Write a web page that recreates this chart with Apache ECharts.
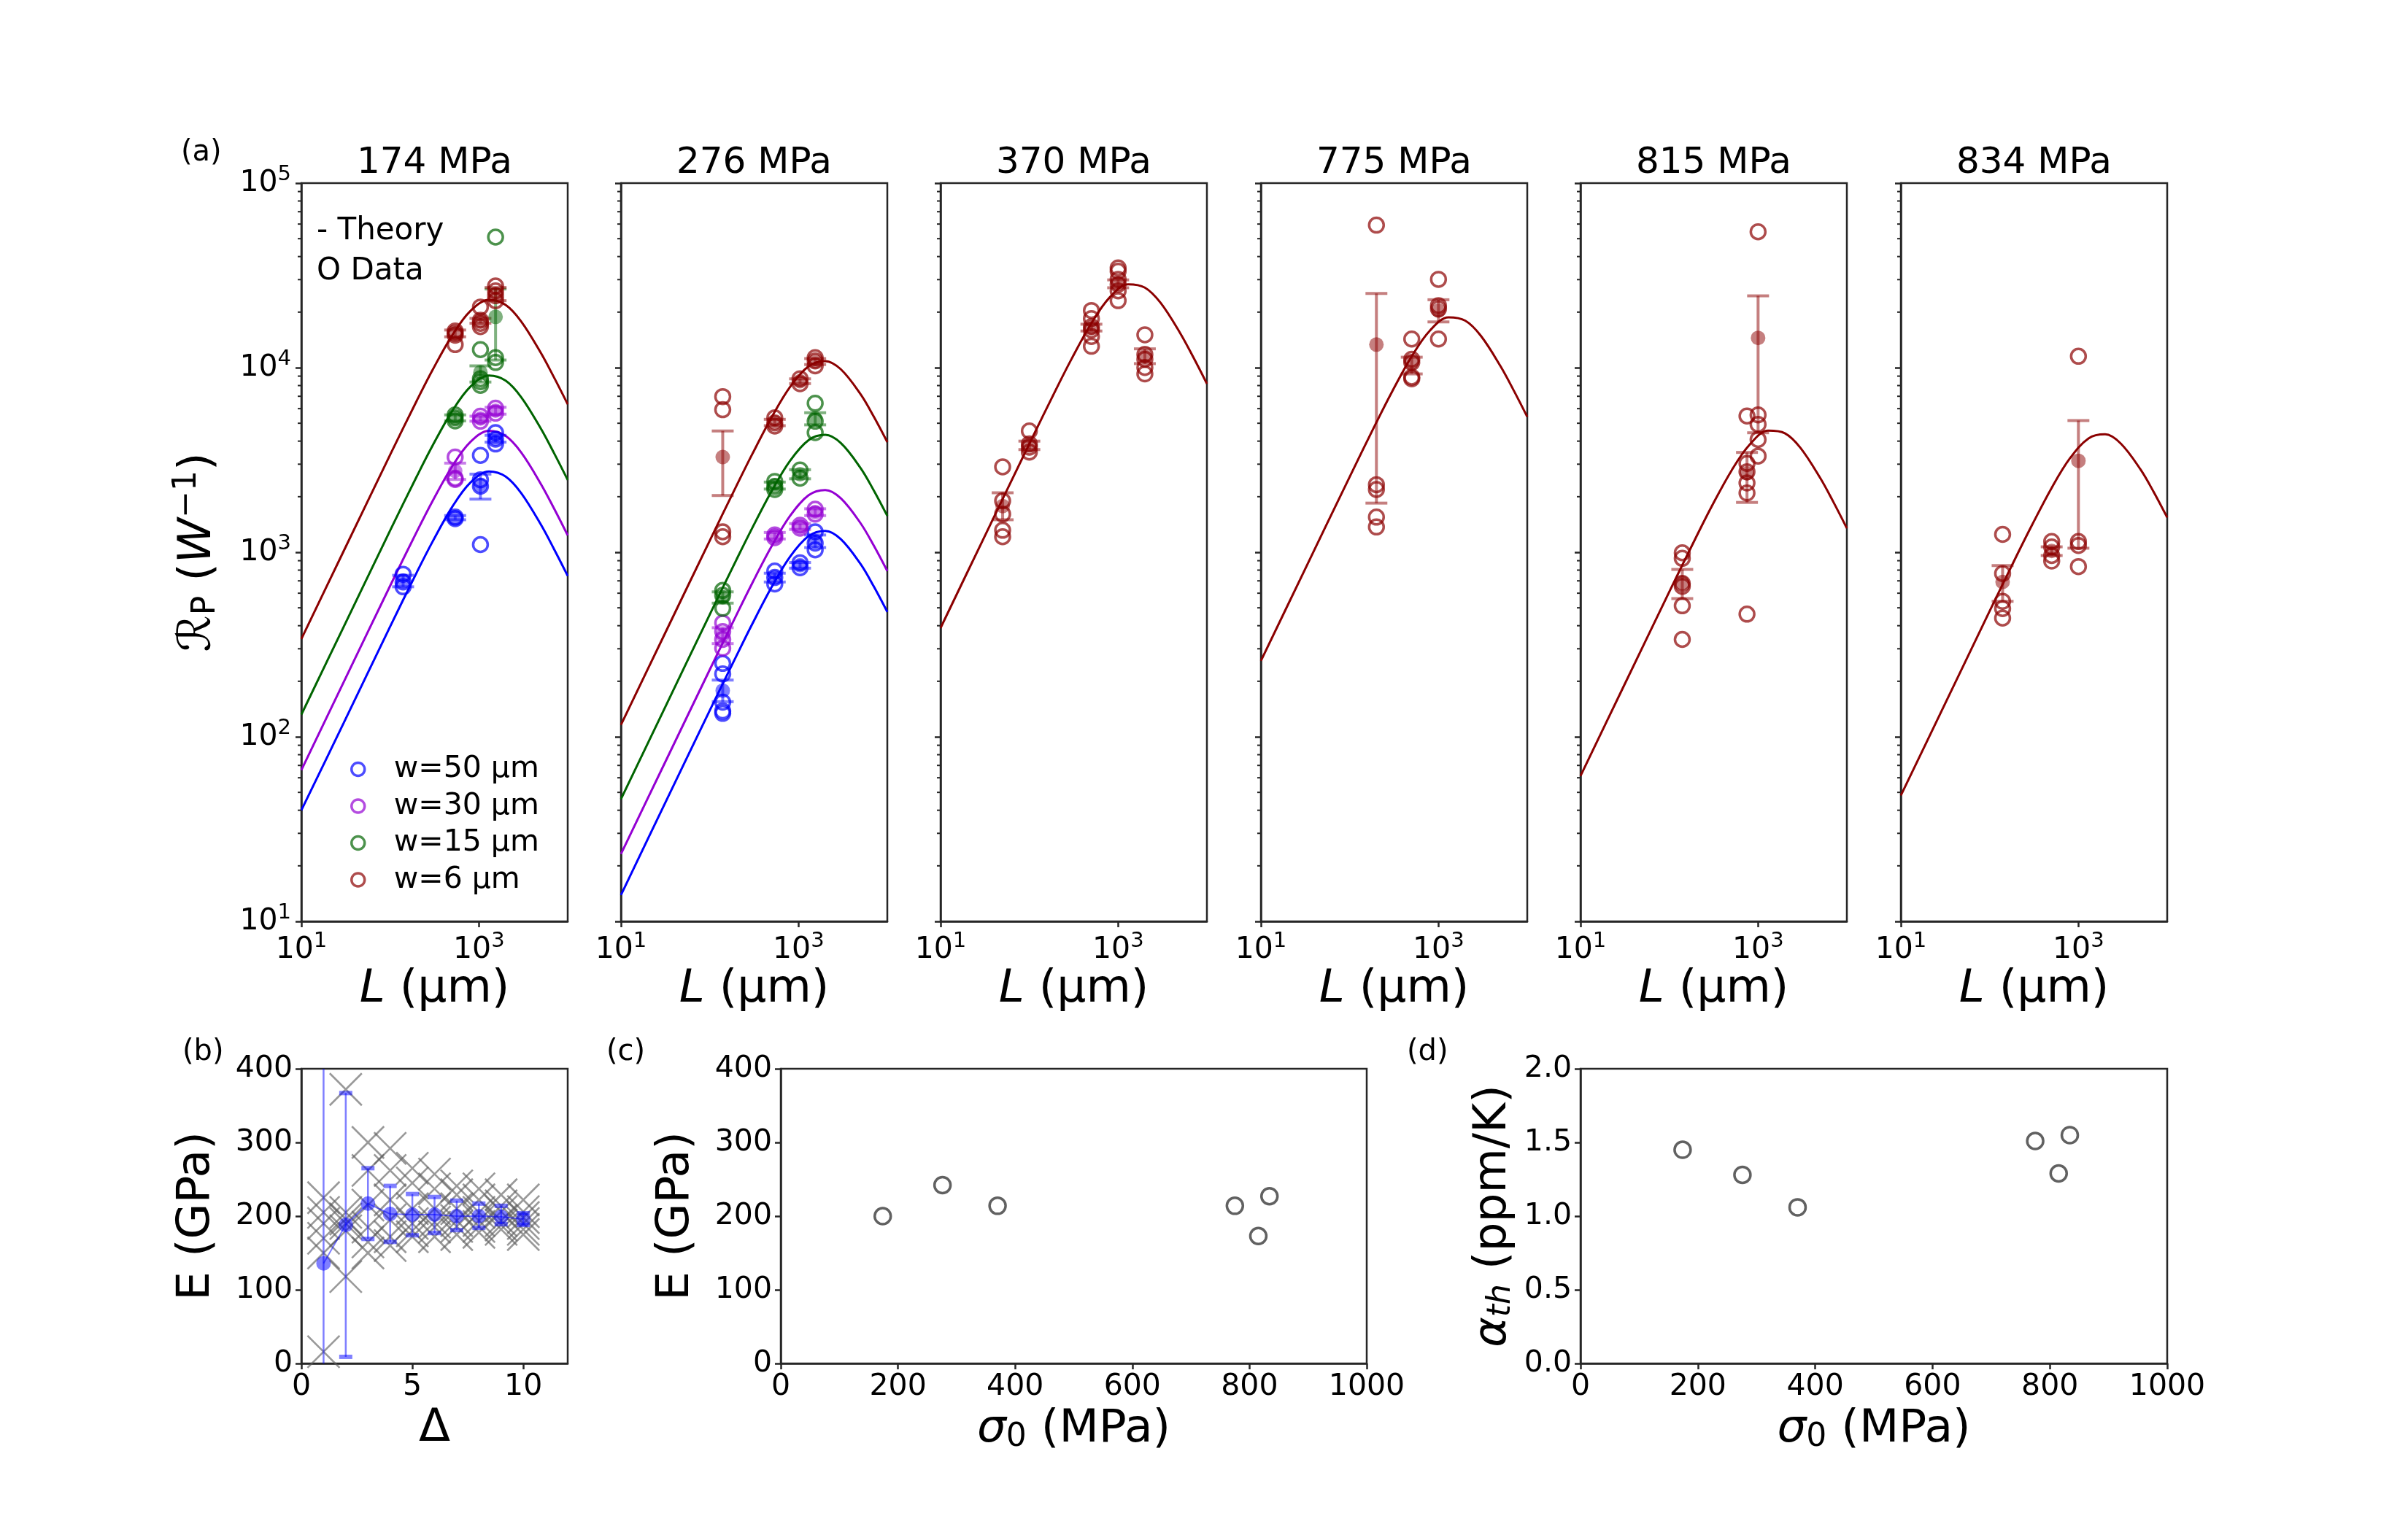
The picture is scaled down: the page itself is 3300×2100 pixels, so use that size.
<!DOCTYPE html>
<html><head><meta charset="utf-8">
<script src="https://cdn.jsdelivr.net/npm/echarts@6/dist/echarts.min.js"></script>
<style>html,body{margin:0;padding:0;background:#fff}#c{width:3300px;height:2100px}</style>
</head><body><div id="c"></div>
<script>
// ---------------- DATA ----------------
const panelTitles = ['174 MPa','276 MPa','370 MPa','775 MPa','815 MPa','834 MPa'];
const widthNames = ['w=50 μm','w=30 μm','w=15 μm','w=6 μm'];
const curveL = [10,30,100,200,300,500,800,1300,2000,3000,5000,7000,10000];

// theory curves
const c174_w50 = [40,119,396,780,1140,1760,2383,2741,2571,2089,1409,1042,745];
const c174_w30 = [66,198,658,1294,1892,2921,3955,4549,4267,3467,2339,1730,1236];
const c174_w15 = [132,395,1312,2582,3775,5827,7889,9075,8511,6916,4666,3451,2466];
const c174_w6  = [339,1016,3373,6637,9705,14980,20280,23330,21880,17780,11995,8872,6339];
const c276_w50 = [13.9,41.8,139,275,407,650,944,1224,1306,1177,863,656,475];
const c276_w30 = [23.2,69.5,231,458,678,1082,1570,2037,2173,1959,1436,1092,791];
const c276_w15 = [46,138,460,912,1349,2153,3126,4055,4325,3900,2858,2173,1574];
const c276_w6  = [116,348,1156,2291,3388,5408,7852,10186,10864,9795,7178,5458,3954];
const c370_w6  = [389,1167,3873,7638,11194,17418,23988,28314,27164,22491,15382,11429,8185];
const c775_w6  = [258,773,2564,5056,7410,11531,15880,18744,17983,14889,10183,7566,5418];
const c815_w6  = [61.4,184,611,1205,1770,2761,3819,4560,4416,3681,2529,1884,1349];
const c834_w6  = [48.1,144,480,951,1403,2234,3221,4140,4355,3882,2812,2133,1542];

// measured points [L, R]
const pts174_w50 = [[140,760],[140,690],[140,650],[540,1550],[540,1520],[1040,3350],[1040,2470],[1040,2280],[1040,1100],[1540,4450],[1540,4100],[1540,3860]];
const pts174_w30 = [[540,3280],[540,2520],[540,2480],[1040,5460],[1040,5130],[1540,6030],[1540,5670]];
const pts174_w15 = [[540,5550],[540,5350],[540,5150],[1040,12530],[1040,8710],[1040,8400],[1040,8020],[1540,51000],[1540,11330],[1540,10670]];
const pts174_w6  = [[540,15800],[540,15380],[540,15000],[540,13340],[1040,21300],[1040,18070],[1040,17400],[1040,16700],[1540,27700],[1540,26060],[1540,24540],[1540,23070]];
const pts276_w50 = [[140,250],[140,219],[140,154],[140,138],[140,134],[540,791],[540,730],[540,673],[1040,877],[1040,825],[1540,1290],[1540,1120],[1540,1031]];
const pts276_w30 = [[140,414],[140,372],[140,337],[140,302],[540,1240],[540,1200],[1040,1400],[1040,1350],[1540,1710],[1540,1610]];
const pts276_w15 = [[140,621],[140,584],[140,497],[540,2420],[540,2276],[540,2188],[1040,2790],[1040,2520],[1540,6410],[1540,5130],[1540,4450]];
const pts276_w6  = [[140,6970],[140,5920],[140,1290],[140,1213],[540,5350],[540,5020],[540,4830],[1040,8710],[1040,8190],[1540,11330],[1540,10880],[1540,10240]];
const pts370_w6  = [[50,2900],[50,1900],[50,1610],[50,1316],[50,1213],[100,4540],[100,3860],[100,3710],[100,3490],[500,20400],[500,18450],[500,16680],[500,16010],[500,14750],[500,13070],[1000,34700],[1000,33300],[1000,30100],[1000,28300],[1000,26060],[1000,23080],[2000,15070],[2000,11800],[2000,11100],[2000,10020],[2000,9250]];
const pts775_w6  = [[200,59200],[200,2323],[200,2188],[200,1550],[200,1371],[500,14290],[500,11100],[500,10670],[500,8890],[500,8710],[1000,30100],[1000,21700],[1000,20840],[1000,14290]];
const pts815_w6  = [[140,993],[140,927],[140,678],[140,654],[140,513],[140,337],[750,5470],[750,3030],[750,2730],[750,2373],[750,2094],[750,462],[1000,54500],[1000,5550],[1000,4930],[1000,4080],[1000,3320]];
const pts834_w6  = [[140,1250],[140,767],[140,542],[140,495],[140,440],[500,1143],[500,1067],[500,960],[500,896],[1000,11530],[1000,1143],[1000,1089],[1000,836]];

// means with error bars [L, mean, low, high]
const mean174_w50 = [[140,700,650,750],[540,1540,1500,1580],[1040,2300,1940,2650],[1540,4130,3950,4300]];
const mean174_w30 = [[540,2760,2480,3040],[1040,5300,5130,5460],[1540,5850,5600,6100]];
const mean174_w15 = [[540,5350,5150,5550],[1040,9440,8360,10230],[1540,18850,11000,26700]];
const mean174_w6  = [[540,15300,14700,16000],[1040,18000,17400,18500],[1540,25000,23070,27200]];
const mean276_w50 = [[140,178,155,203],[540,730,690,770],[1040,850,820,880],[1540,1150,1060,1240]];
const mean276_w30 = [[140,355,320,390],[540,1230,1180,1280],[1040,1380,1330,1430],[1540,1650,1580,1720]];
const mean276_w15 = [[140,570,530,610],[540,2300,2200,2400],[1040,2650,2500,2800],[1540,5300,4900,5700]];
const mean276_w6  = [[140,3280,2030,4540],[540,5050,4850,5250],[1040,8450,8200,8700],[1540,10800,10400,11200]];
const mean370_w6  = [[50,1780,1500,2100],[100,3800,3600,4000],[500,16500,15800,17200],[1000,28500,27100,29900],[2000,11500,10520,12650]];
const mean775_w6  = [[200,13340,1846,25240],[500,10700,9250,11400],[1000,20400,17700,23340]];
const mean815_w6  = [[140,684,561,807],[750,2680,1862,3474],[1000,14500,4440,24500]];
const mean834_w6  = [[140,690,542,847],[500,1016,960,1070],[1000,3130,1052,5170]];

// (b) E vs Delta
const deltaValues = [1,2,3,4,5,6,7,8,9,10];
const bMeanE = [136,188,217,203,202,202,200,200,199,196];
const bErrLow = [-270,9,169,165,174,177,181,184,189,188];
const bErrHigh = [540,367,265,241,230,226,221,217,214,204];
const bEstimates = [
  [16,150,170,190,205,225],
  [372,118,180,190,196,205],
  [300,262,215,185,165,150],
  [292,262,222,195,172,160],
  [265,245,210,190,180,172],
  [257,237,210,192,185,172],
  [241,229,210,194,186,175],
  [237,222,205,194,186,178],
  [229,214,206,194,188,182],
  [222,206,198,190,182,175]
];
// (c),(d)
const sigma0 = [174,276,370,775,815,834];
const cE = [200,242,214,214,173,227];
const dAlpha = [1.45,1.28,1.06,1.51,1.29,1.55];

// tick lists
const yMajorTicks = [10,100,1000,10000,100000];
const xMajorTicks = [10,1000];
const yMinorTicks = [];
[10,100,1000,10000].forEach(b => { for (let k = 2; k <= 9; k++) yMinorTicks.push(b*k); });

// ---------------- LAYOUT / STYLE ----------------
const FONT = 'DejaVu Sans';
const COL = ['#0000ff','#9400d3','#006400','#8b0000'];
const SPINE = '#262626';
const TICKFS = 41;
const topLefts = [413,851,1289,1728,2166,2605];
const TOP = {top:251, width:365, height:1012};
const botGrids = [
  {left:413, top:1465, width:365, height:404},
  {left:1070, top:1465, width:803, height:404},
  {left:2166, top:1465, width:804, height:404}
];

const supLabel = v => '{b|10}{s|' + Math.round(Math.log10(v)) + '}';
const tickRich = {
  b:{fontSize:TICKFS, fontFamily:FONT, color:'#000'},
  s:{fontSize:29, fontFamily:FONT, color:'#000', padding:[0,0,24,0]}
};
const botLabel = (extra) => Object.assign({fontSize:TICKFS, fontFamily:FONT, color:'#000', margin:12, formatter:v => String(v)}, extra || {});

const grids = [], xAxes = [], yAxes = [], series = [];
topLefts.forEach((l,i) => {
  grids.push({left:l, top:TOP.top, width:TOP.width, height:TOP.height, show:true, borderColor:SPINE, borderWidth:2.5, backgroundColor:'transparent'});
});
botGrids.forEach(g => grids.push(Object.assign({show:true, borderColor:SPINE, borderWidth:2.5, backgroundColor:'transparent'}, g)));

const axLine = {show:true, lineStyle:{color:SPINE, width:2.5}};
const axTick = (len) => ({show:true, inside:false, length:len, lineStyle:{color:SPINE, width:2.5}});
const nameRich = {
  i:{fontSize:63, fontStyle:'italic', fontFamily:FONT, color:'#000'},
  n:{fontSize:63, fontFamily:FONT, color:'#000'},
  sub:{fontSize:44, fontFamily:FONT, color:'#000', padding:[22,0,0,0]},
  isub:{fontSize:44, fontStyle:'italic', fontFamily:FONT, color:'#000', padding:[22,0,0,0]},
  sup:{fontSize:44, fontFamily:FONT, color:'#000', padding:[0,0,30,0]}
};

topLefts.forEach((l,i) => {
  xAxes.push({type:'log', logBase:10, gridIndex:i, min:10, max:10000, position:'bottom',
    axisLine:axLine, splitLine:{show:false},
    axisTick:Object.assign(axTick(8), {customValues:xMajorTicks}),
    axisLabel:{customValues:xMajorTicks, formatter:supLabel, rich:tickRich, margin:13},
    name:'{i|L}{n| (μm)}', nameLocation:'middle', nameGap:62,
    nameTextStyle:{rich:nameRich}
  });
});
// bottom x axes
xAxes.push({type:'value', gridIndex:6, min:0, max:12, position:'bottom', axisLine:axLine, splitLine:{show:false},
  axisTick:Object.assign(axTick(8), {customValues:[0,5,10]}),
  axisLabel:botLabel({customValues:[0,5,10]}),
  name:'Δ', nameLocation:'middle', nameGap:58, nameTextStyle:{fontSize:63, fontFamily:FONT, color:'#000'}});
[7,8].forEach(gi => xAxes.push({type:'value', gridIndex:gi, min:0, max:1000, interval:200, position:'bottom', axisLine:axLine, splitLine:{show:false},
  axisTick:axTick(8), axisLabel:botLabel(),
  name:'{i|σ}{sub|0}{n| (MPa)}', nameLocation:'middle', nameGap:58,
  nameTextStyle:{rich:nameRich}}));

// top y axes
topLefts.forEach((l,i) => {
  const y = {type:'log', logBase:10, gridIndex:i, min:10, max:100000, position:'left',
    axisLine:axLine, splitLine:{show:false},
    axisTick:Object.assign(axTick(8), {customValues:yMajorTicks}),
    axisLabel:{show:i===0, customValues:yMajorTicks, formatter:supLabel, rich:tickRich, margin:14}};
  if (i === 0) {
    y.name = '{n|ℛ}{sub|P}{n| (}{i|W}{sup|−1}{n|)}';
    y.nameLocation = 'middle';
    y.nameGap = 104;
    y.nameTextStyle = {rich:nameRich};
  }
  yAxes.push(y);
});
// bottom y axes
yAxes.push({type:'value', gridIndex:6, min:0, max:400, interval:100, position:'left', axisLine:axLine, splitLine:{show:false},
  axisTick:axTick(8), axisLabel:botLabel(),
  name:'E (GPa)', nameLocation:'middle', nameGap:112, nameTextStyle:{fontSize:63, fontFamily:FONT, color:'#000'}});
yAxes.push({type:'value', gridIndex:7, min:0, max:400, interval:100, position:'left', axisLine:axLine, splitLine:{show:false},
  axisTick:axTick(8), axisLabel:botLabel(),
  name:'E (GPa)', nameLocation:'middle', nameGap:112, nameTextStyle:{fontSize:63, fontFamily:FONT, color:'#000'}});
yAxes.push({type:'value', gridIndex:8, min:0, max:2, interval:0.5, position:'left', axisLine:axLine, splitLine:{show:false},
  axisTick:axTick(8), axisLabel:botLabel({formatter:v => v.toFixed(1)}),
  name:'{i|α}{isub|th}{n| (ppm/K)}', nameLocation:'middle', nameGap:86,
  nameTextStyle:{rich:nameRich}});

// ---------------- SERIES ----------------
function errRender(color, capHalf, stemW, capW, op) {
  return function(params, api) {
    const x = api.value(0), lo = api.value(2), hi = api.value(3);
    const a = api.coord([x, lo]), b = api.coord([x, hi]);
    const st = {stroke:color, lineWidth:stemW, opacity:op};
    const sc = {stroke:color, lineWidth:capW, opacity:op};
    return {type:'group', children:[
      {type:'line', shape:{x1:a[0], y1:a[1], x2:b[0], y2:b[1]}, style:st},
      {type:'line', shape:{x1:a[0]-capHalf, y1:a[1], x2:a[0]+capHalf, y2:a[1]}, style:sc},
      {type:'line', shape:{x1:b[0]-capHalf, y1:b[1], x2:b[0]+capHalf, y2:b[1]}, style:sc}
    ]};
  };
}
function minorTickRender(params, api) {
  const p = api.coord([api.value(0), api.value(1)]);
  return {type:'line', shape:{x1:p[0]-5, y1:p[1], x2:p[0], y2:p[1]}, style:{stroke:SPINE, lineWidth:2}};
}
function addGroup(gi, wk, curve, pts, means) {
  series.push({type:'line', xAxisIndex:gi, yAxisIndex:gi, data:curveL.map((L,j)=>[L, curve[j]]),
    smooth:0.35, symbol:'none', lineStyle:{color:COL[wk], width:3}, z:2, silent:true});
  series.push({type:'custom', xAxisIndex:gi, yAxisIndex:gi, data:means, encode:{x:0, y:1},
    renderItem:errRender(COL[wk], 15, 4, 4, 0.5), z:3, silent:true});
  series.push({type:'scatter', xAxisIndex:gi, yAxisIndex:gi, data:means.map(m=>[m[0], m[1]]),
    symbolSize:20, itemStyle:{color:COL[wk], opacity:0.5}, z:3, silent:true});
  series.push({type:'scatter', name:widthNames[wk], xAxisIndex:gi, yAxisIndex:gi, data:pts,
    symbolSize:20, itemStyle:{color:'rgba(255,255,255,0)', borderColor:COL[wk], borderWidth:3.5, opacity:0.7}, z:4, silent:true});
}
topLefts.forEach((l,i) => series.push({type:'custom', xAxisIndex:i, yAxisIndex:i, clip:false,
  data:yMinorTicks.map(v => [10, v]), encode:{x:0, y:1}, renderItem:minorTickRender, z:5, silent:true}));
addGroup(0,0,c174_w50,pts174_w50,mean174_w50);
addGroup(0,1,c174_w30,pts174_w30,mean174_w30);
addGroup(0,2,c174_w15,pts174_w15,mean174_w15);
addGroup(0,3,c174_w6,pts174_w6,mean174_w6);
addGroup(1,0,c276_w50,pts276_w50,mean276_w50);
addGroup(1,1,c276_w30,pts276_w30,mean276_w30);
addGroup(1,2,c276_w15,pts276_w15,mean276_w15);
addGroup(1,3,c276_w6,pts276_w6,mean276_w6);
addGroup(2,3,c370_w6,pts370_w6,mean370_w6);
addGroup(3,3,c775_w6,pts775_w6,mean775_w6);
addGroup(4,3,c815_w6,pts815_w6,mean815_w6);
addGroup(5,3,c834_w6,pts834_w6,mean834_w6);

// (b)
const bX = [];
bEstimates.forEach((arr,i) => arr.forEach(e => bX.push([deltaValues[i], e])));
series.push({type:'scatter', xAxisIndex:6, yAxisIndex:6, data:bX, symbol:'path://M0,0L10,10M10,0L0,10', symbolSize:44,
  itemStyle:{color:'none', borderColor:'rgba(95,95,95,0.8)', borderWidth:2.6}, z:2, silent:true});
series.push({type:'custom', xAxisIndex:6, yAxisIndex:6, clip:true,
  data:deltaValues.map((d,i)=>[d, bMeanE[i], bErrLow[i], bErrHigh[i]]), encode:{x:0, y:1},
  renderItem:errRender('#0000ff', 9, 2.5, 6, 0.5), z:3, silent:true});
series.push({type:'line', xAxisIndex:6, yAxisIndex:6, data:deltaValues.map((d,i)=>[d, bMeanE[i]]),
  symbol:'circle', symbolSize:20, lineStyle:{color:'rgba(0,0,255,0.5)', width:2},
  itemStyle:{color:'rgba(0,0,255,0.5)'}, z:4, silent:true});
// (c)
series.push({type:'scatter', xAxisIndex:7, yAxisIndex:7, data:sigma0.map((s,i)=>[s, cE[i]]), symbolSize:22,
  itemStyle:{color:'rgba(255,255,255,0)', borderColor:'#3a3a3a', borderWidth:3.5}, silent:true});
// (d)
series.push({type:'scatter', xAxisIndex:8, yAxisIndex:8, data:sigma0.map((s,i)=>[s, dAlpha[i]]), symbolSize:22,
  itemStyle:{color:'rgba(255,255,255,0)', borderColor:'#3a3a3a', borderWidth:3.5}, silent:true});

// ---------------- TEXT ----------------
const graphic = [];
topLefts.forEach((l,i) => graphic.push({type:'text', x:l + TOP.width/2, y:224,
  style:{text:panelTitles[i], font:'50px "DejaVu Sans"', fill:'#000', align:'center', verticalAlign:'middle'}}));
[['(a)',248,210],['(b)',250,1443],['(c)',831,1443],['(d)',1928,1443]].forEach(t =>
  graphic.push({type:'text', x:t[1], y:t[2], style:{text:t[0], font:'40px "DejaVu Sans"', fill:'#000', align:'left', verticalAlign:'middle'}}));
graphic.push({type:'text', x:434, y:317, style:{text:'- Theory', font:'42px "DejaVu Sans"', fill:'#000', align:'left', verticalAlign:'middle'}});
graphic.push({type:'text', x:434, y:372, style:{text:'O Data', font:'42px "DejaVu Sans"', fill:'#000', align:'left', verticalAlign:'middle'}});

const legendData = widthNames.map((n,k) => ({name:n, icon:'circle',
  itemStyle:{color:'rgba(255,255,255,0)', borderColor:COL[k], borderWidth:3.5, opacity:0.7}}));

const chart = echarts.init(document.getElementById('c'), null, {renderer:'canvas', width:3300, height:2100});
chart.setOption({
  animation:false,
  backgroundColor:'#ffffff',
  textStyle:{fontFamily:FONT},
  grid:grids, xAxis:xAxes, yAxis:yAxes, series:series, graphic:graphic,
  legend:{show:true, orient:'vertical', left:480, top:1034, padding:0, itemWidth:18, itemHeight:18, itemGap:9.5,
    selectedMode:false, data:legendData,
    textStyle:{fontSize:41, fontFamily:FONT, color:'#000', lineHeight:41, padding:[0,0,0,35]}}
});
</script></body></html>
